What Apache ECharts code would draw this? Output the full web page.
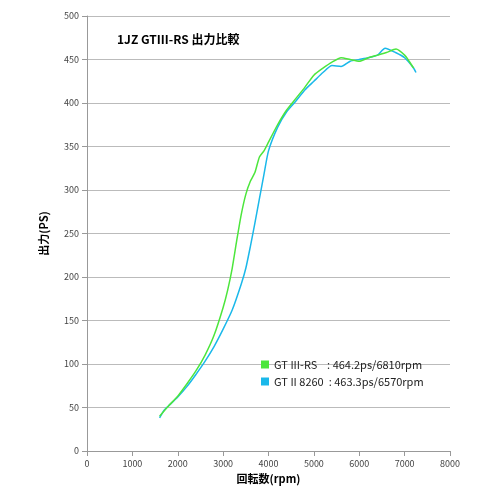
<html>
<head>
<script src="https://cdn.jsdelivr.net/npm/echarts@6/dist/echarts.min.js"></script>
</head>
<body style="margin:0">
<div id="main" style="width:500px;height:500px"></div>
<script>
var rpmA = [1600,1800,2000,2200,2400,2600,2800,3000,3100,3200,3300,3400,3500,3600,3700,3800,3900,4000,4200,4400,4600,4800,5000,5200,5400,5600,5800,6000,6200,6400,6600,6810,7000,7100,7200];
var psA  = [40,52,63,77,92,110,133,165,185,210,242,272,295,310,320,338,345,355,375,392,405,418,432,440,447,452,450,448,452,455,458,462,455,448,440];
var rpmB = [1600,1700,1800,2000,2200,2400,2600,2800,3000,3200,3400,3500,3600,3700,3800,3900,4000,4200,4400,4600,4800,5000,5200,5400,5600,5800,6000,6200,6400,6570,6800,7000,7200,7250];
var psB  = [38,47,52,62,74,88,103,120,140,162,192,210,235,262,290,318,345,372,390,402,415,425,435,443,442,448,450,452,455,463,458,452,440,435];
var nameA = 'GT III-RS    : 464.2ps/6810rpm';
var nameB = 'GT II 8260  : 463.3ps/6570rpm';
function pairs(x, y) { return x.map(function (v, i) { return [v, y[i]]; }); }
var chart = echarts.init(document.getElementById('main'));
chart.setOption({
  textStyle: {fontFamily: 'Noto Sans CJK JP'},
  title: {text: '1JZ GTⅢ-RS 出力比較', left: 112, top: 28, textStyle: {fontSize: 12, fontWeight: 'bold', color: '#000'}},
  legend: {orient: 'vertical', left: 256, top: 354, itemWidth: 8, itemHeight: 8, itemGap: 6, icon: 'rect',
    textStyle: {fontSize: 11, color: '#222'}, data: [nameA, nameB]},
  grid: {left: 87, right: 50, top: 16, bottom: 49},
  xAxis: {type: 'value', min: 0, max: 8000, interval: 1000, name: '回転数(rpm)', nameLocation: 'middle', nameGap: 22,
    nameTextStyle: {fontSize: 11, fontWeight: 'bold', color: '#000'},
    axisLine: {lineStyle: {color: '#999'}}, axisTick: {show: true, lineStyle: {color: '#999'}},
    axisLabel: {fontSize: 9, color: '#444', formatter: function (v) { return String(v); }}, splitLine: {show: false}},
  yAxis: {type: 'value', min: 0, max: 500, interval: 50, name: '出力(PS)', nameLocation: 'middle', nameGap: 38,
    nameTextStyle: {fontSize: 11, fontWeight: 'bold', color: '#000'},
    axisLine: {show: true, lineStyle: {color: '#999'}}, axisTick: {show: true, lineStyle: {color: '#999'}},
    axisLabel: {fontSize: 9, color: '#444'}, splitLine: {lineStyle: {color: '#bbb'}}},
  series: [
    {name: nameB, type: 'line', data: pairs(rpmB, psB), showSymbol: false, smooth: 0.2, lineStyle: {width: 1.5, color: '#1ab8ea'}, itemStyle: {color: '#1ab8ea'}},
    {name: nameA, type: 'line', data: pairs(rpmA, psA), showSymbol: false, smooth: 0.2, lineStyle: {width: 1.5, color: '#4ce63c'}, itemStyle: {color: '#4ce63c'}}
  ]
});
</script>
</body>
</html>
